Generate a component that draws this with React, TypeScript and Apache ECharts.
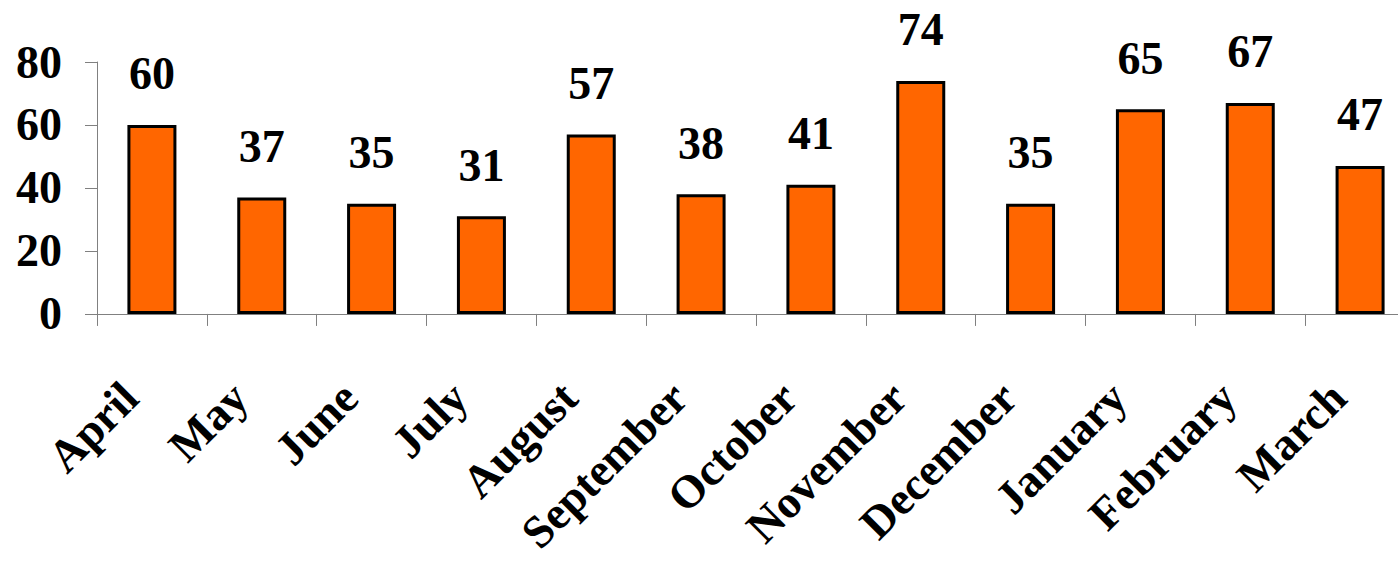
import React, { useEffect, useRef } from "react";
import * as echarts from "echarts";

const categories = ["April", "May", "June", "July", "August", "September", "October", "November", "December", "January", "February", "March"];
const values = [60, 37, 35, 31, 57, 38, 41, 74, 35, 65, 67, 47];
const yTicks = { min: 0, max: 80, interval: 20 };

const FONT = "'Liberation Serif', 'Times New Roman', serif";

export default function App() {
  const ref = useRef<HTMLDivElement>(null);
  useEffect(() => {
    if (!ref.current) return;
    const chart = echarts.init(ref.current, undefined, { renderer: "svg" });
    chart.setOption({
      animation: false,
      backgroundColor: "#ffffff",
      grid: { left: 97, right: 0, top: 62, bottom: 247, containLabel: false },
      xAxis: {
        type: "category",
        data: categories,
        boundaryGap: true,
        axisLine: { show: true, lineStyle: { color: "#808080", width: 1 } },
        axisTick: { show: true, length: 12, lineStyle: { color: "#808080", width: 1 } },
        axisLabel: {
          interval: 0,
          rotate: 45,
          margin: 98,
          verticalAlign: "bottom",
          lineHeight: 62,
          fontSize: 46,
          fontWeight: "bold",
          fontFamily: FONT,
          color: "#000000",
        },
      },
      yAxis: {
        type: "value",
        min: yTicks.min,
        max: yTicks.max,
        interval: yTicks.interval,
        splitLine: { show: false },
        axisLine: { show: true, lineStyle: { color: "#808080", width: 1 } },
        axisTick: { show: true, length: 12, lineStyle: { color: "#808080", width: 1 } },
        axisLabel: {
          margin: 35,
          fontSize: 46,
          fontWeight: "bold",
          fontFamily: FONT,
          color: "#000000",
        },
      },
      series: [
        {
          type: "bar",
          data: values,
          barWidth: 49,
          itemStyle: { color: "#FF6600", borderColor: "#000000", borderWidth: 3 },
          label: {
            show: true,
            position: "top",
            distance: 28,
            fontSize: 46,
            fontWeight: "bold",
            fontFamily: FONT,
            color: "#000000",
          },
        },
      ],
    });
    return () => chart.dispose();
  }, []);
  return (
    <div style={{ position: "absolute", left: 0, top: 0, width: 1398, height: 564, overflow: "hidden" }}>
      <div ref={ref} style={{ width: 1415, height: 564 }} />
    </div>
  );
}
